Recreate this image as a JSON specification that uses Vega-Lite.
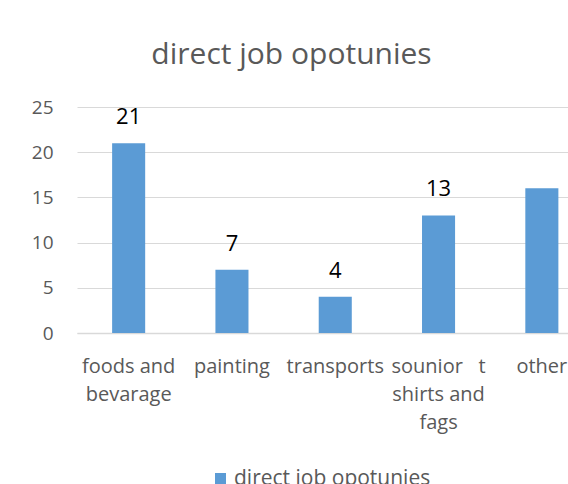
{
  "$schema": "https://vega.github.io/schema/vega-lite/v6.json",
  "autosize": {"type": "none"},
  "width": 491,
  "height": 226,
  "padding": {"left": 77, "top": 107, "right": 0, "bottom": 151},
  "background": "white",
  "title": {
    "text": "direct job opotunies",
    "font": "Open Sans",
    "fontSize": 30,
    "fontWeight": "normal",
    "color": "#595959",
    "anchor": "middle",
    "frame": "group",
    "dx": -31,
    "offset": 28
  },
  "data": {
    "values": [
      {"category": "foods and bevarage", "value": 21, "label": "21"},
      {"category": "painting", "value": 7, "label": "7"},
      {"category": "transports", "value": 4, "label": "4"},
      {"category": "sounior t shirts and fags", "value": 13, "label": "13"},
      {"category": "other", "value": 16, "label": null}
    ]
  },
  "encoding": {
    "x": {
      "field": "category",
      "type": "nominal",
      "sort": null,
      "scale": {"range": [0, 516.5], "paddingInner": 0.68, "paddingOuter": 0.34},
      "axis": {
        "title": null,
        "labelAngle": 0,
        "domain": true,
        "domainColor": "#d9d9d9",
        "domainWidth": 1.5,
        "ticks": false,
        "grid": false,
        "labelFont": "Open Sans",
        "labelFontSize": 20,
        "labelColor": "#595959",
        "labelPadding": 23,
        "labelLineHeight": 28,
        "labelLimit": 0,
        "labelOverlap": false,
        "labelExpr": "datum.label == 'foods and bevarage' ? ['foods and', 'bevarage'] : datum.label == 'sounior t shirts and fags' ? ['sounior \u00a0\u00a0t', 'shirts and', 'fags'] : datum.label"
      }
    },
    "y": {
      "field": "value",
      "type": "quantitative",
      "scale": {"domain": [0, 25]},
      "axis": {
        "title": null,
        "values": [0, 5, 10, 15, 20, 25],
        "grid": true,
        "gridColor": "#d9d9d9",
        "domain": false,
        "ticks": false,
        "labelFont": "Open Sans",
        "labelFontSize": 19,
        "labelColor": "#595959",
        "labelPadding": 24
      }
    }
  },
  "layer": [
    {
      "mark": {"type": "bar"},
      "encoding": {
        "color": {
          "datum": "direct job opotunies",
          "scale": {"range": ["#5b9bd5"]},
          "legend": {
            "title": null,
            "orient": "none",
            "legendX": 133,
            "legendY": 361,
            "direction": "horizontal",
            "symbolType": "square",
            "symbolSize": 121,
            "symbolStrokeWidth": 0,
            "labelFont": "Open Sans",
            "labelFontSize": 21,
            "labelColor": "#595959",
            "labelOffset": 3,
            "labelLimit": 0,
            "padding": 0
          }
        }
      }
    },
    {
      "transform": [{"filter": "datum.label != null"}],
      "mark": {"type": "text", "dy": -19, "baseline": "alphabetic", "font": "Open Sans", "fontSize": 22, "color": "#000000"},
      "encoding": {"text": {"field": "label", "type": "nominal"}}
    }
  ],
  "config": {"view": {"stroke": null}}
}
